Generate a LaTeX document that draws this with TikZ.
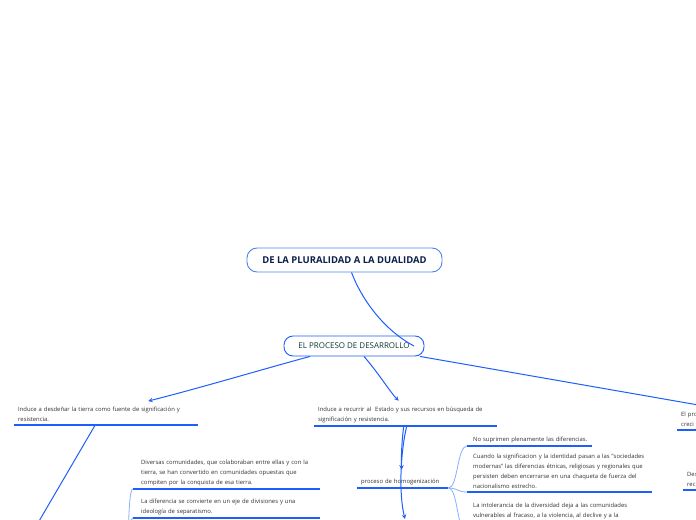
\documentclass[tikz,border=0pt]{standalone}
\usepackage{fontspec}
\setmainfont{Open Sans}
\definecolor{lineblue}{HTML}{1E5EFA}
\definecolor{softblue}{HTML}{8AAEFF}
\definecolor{boxblue}{HTML}{4A86E8}
\definecolor{leaftext}{HTML}{333333}
\definecolor{titletext}{HTML}{0B1F4B}
\definecolor{coretext}{HTML}{0E3B33}
\begin{document}
\begin{tikzpicture}[x=1bp, y=-1bp,
  rootbox/.style={draw=boxblue, line width=0.9bp, rounded corners=10bp, fill=white, minimum width=195bp, minimum height=24bp, text=titletext, font=\fontsize{9.5}{11}\selectfont\bfseries},
  corebox/.style={draw=lineblue, line width=0.9bp, rounded corners=9bp, fill=white, minimum width=140bp, minimum height=20bp, text=coretext, font=\fontsize{8}{10}\selectfont},
  uline/.style={draw=lineblue, line width=1.4bp},
  leaf/.style={anchor=south west, align=left, inner xsep=4bp, inner ysep=3bp, text=leaftext, font=\fontsize{5.9}{10}\selectfont, append after command={(\tikzlastnode.south west) edge[uline] (\tikzlastnode.south east)}},
  conn/.style={draw=lineblue, line width=1bp},
  twig/.style={draw=softblue, line width=0.8bp}]
\useasboundingbox (0,0) rectangle (696,520);
\clip (0,0) rectangle (696,520);
\fill[white] (0,0) rectangle (696,520);

\node[rootbox] (title) at (344.5,260) {DE LA PLURALIDAD A LA DUALIDAD};
\node[corebox] (centro) at (354,346) {EL PROCESO DE DESARROLLO};

\node[leaf, text width=176bp] (desd) at (14,425) {Induce a desdeñar la tierra como fuente de significación y\\resistencia.};
\node[leaf, text width=175bp] (recur) at (314,426) {Induce a recurrir al\ \ Estado y sus recursos en búsqueda de\\significación y resistencia.};
\node[leaf, text width=170bp] (elpro) at (677,430) {El pro\\creci};

\node[leaf, text width=83bp] (homog) at (357,488) {proceso de homogenización};
\node[leaf, text width=113bp, inner xsep=6bp] (nosup) at (467,446) {\mbox{No suprimen plenamente las diferencias.}};
\node[leaf, text width=173bp, inner xsep=6bp] (cuando) at (467,492) {Cuando la significacion y la identidad pasan a las "sociedades\\modernas" las diferencias étnicas, religiosas y regionales que\\persisten deben encerrarse en una chaqueta de fuerza del\\nacionalismo estrecho.};
\node[leaf, text width=173bp, inner xsep=6bp, anchor=north west] (intol) at (467,500) {La intolerancia de la diversidad deja a las comunidades\\vulnerables al fracaso, a la violencia, al declive y a la};

\node[leaf, text width=171bp, inner xsep=8bp] (divers) at (133,489) {Diversas comunidades, que colaboraban entre ellas y con la\\tierra, se han convertido en comunidades opuestas que\\compiten por la conquista de esa tierra.};
\node[leaf, text width=171bp, inner xsep=8bp] (difer) at (133,518) {La diferencia se convierte en un eje de divisiones y una\\ideología de separatismo.};
\node[leaf, text width=170bp] (des) at (683,490) {Des\\rec};

\coordinate (rightin) at (750,414);
\coordinate (abajo) at (405,519);
\coordinate (leftdown) at (28,540);
\coordinate (leftroot) at (124,560);

\draw[conn] ([xshift=7bp]title.south) .. controls (362,300) and (384,330) .. ([xshift=60bp]centro.center);
\draw[conn, -stealth] ([xshift=-44bp]centro.south) .. controls (260,370) and (200,388) .. ([xshift=42bp, yshift=3bp]desd.north);
\draw[conn, -stealth] ([xshift=10bp]centro.south) .. controls (380,375) and (390,392) .. ([xshift=-7bp, yshift=3bp]recur.north);
\draw[conn] ([xshift=66bp]centro.south) -- (rightin);

\draw[conn, -stealth] ([xshift=-2bp]recur.south) .. controls (402,440) and (401,455) .. ([xshift=-1bp, yshift=6bp]homog.north);
\draw[conn, -stealth] ([xshift=1bp]recur.south) .. controls (400,455) and (399,495) .. (abajo);
\draw[conn] ([xshift=-11bp]desd.south) -- (leftdown);

\draw[twig] (homog.south east) .. controls (458,488) and (457,446) .. (nosup.south west);
\draw[twig] (homog.south east) .. controls (458,488) and (457,492) .. (cuando.south west);
\draw[twig] (homog.south east) .. controls (458,488) and (457,533) .. ([yshift=-12bp]intol.south west);
\draw[twig] (leftroot) .. controls (130,560) and (127,489) .. (divers.south west);
\draw[twig] (leftroot) .. controls (130,560) and (127,518) .. (difer.south west);
\end{tikzpicture}
\end{document}
